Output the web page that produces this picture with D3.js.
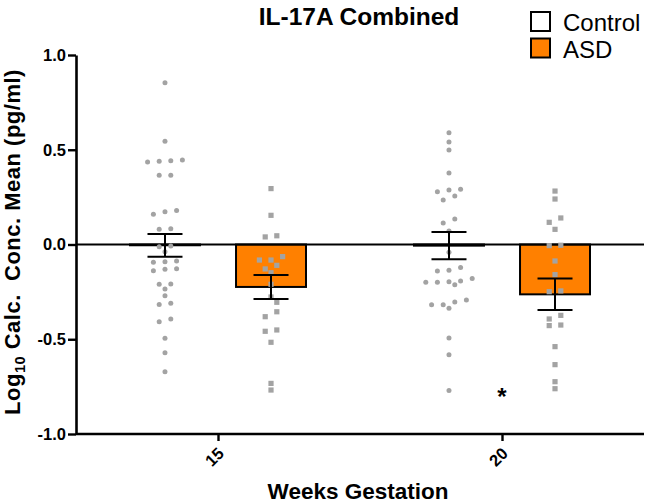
<!DOCTYPE html>
<html>
<head>
<meta charset="utf-8">
<script src="https://cdn.jsdelivr.net/npm/d3@7"></script>
<style>
  html, body { margin: 0; padding: 0; background: #fff; }
  svg { display: block; font-family: "Liberation Sans", Arial, sans-serif; }
</style>
</head>
<body>
<svg id="chart" width="647" height="504"></svg>
<script>
// ---------- data ----------
const groups = ["15", "20"];
const seriesNames = ["Control", "ASD"];
const yTicks = [1.0, 0.5, 0.0, -0.5, -1.0];

// individual points (log10 conc.)
const control15 = [0.854, 0.545, 0.446, 0.442, 0.439, 0.435, 0.365, 0.365, 0.180, 0.173, 0.159,
  0.083, 0.080, -0.008, -0.012, -0.038, -0.087, -0.091, -0.094, -0.128, -0.131, -0.138,
  -0.208, -0.210, -0.235, -0.270, -0.310, -0.316, -0.393, -0.407, -0.495, -0.571, -0.671];
const asd15 = [0.295, 0.154, 0.046, 0.040, -0.064, -0.082, -0.082, -0.110, -0.129, -0.149,
  -0.210, -0.277, -0.305, -0.355, -0.381, -0.451, -0.458, -0.516, -0.733, -0.768];
const control20 = [0.590, 0.541, 0.499, 0.377, 0.291, 0.288, 0.279, 0.256, 0.235, 0.135, 0.113,
  0.071, -0.041, -0.122, -0.136, -0.140, -0.180, -0.193, -0.196, -0.199, -0.199, -0.212,
  -0.293, -0.303, -0.318, -0.318, -0.337, -0.493, -0.582, -0.771];
const asd20 = [0.282, 0.240, 0.140, 0.117, 0.080, -0.004, -0.006, -0.087, -0.159, -0.245, -0.249,
  -0.374, -0.393, -0.425, -0.428, -0.539, -0.634, -0.724, -0.761];

// bar heights (means) and SEM, per group
const controlMean = [-0.004, -0.006];
const controlSem = [0.060, 0.072];
const asdMean = [-0.224, -0.263];
const asdSem = [0.063, 0.083];

// significance annotation
const sigGroups = ["20"];
const sigValues = [-0.78];
const sigLabels = ["*"];

// ---------- build ----------
const pointsBy = {
  "15": { Control: control15, ASD: asd15 },
  "20": { Control: control20, ASD: asd20 }
};
const meanBy = { Control: controlMean, ASD: asdMean };
const semBy = { Control: controlSem, ASD: asdSem };
const fillBy = { Control: "#ffffff", ASD: "#ff8000" };
const dotColor = "#a3a3a3";

const svg = d3.select("#chart");
const plotLeft = 76, plotRight = 644, plotTop = 55, plotBottom = 434;

const y = d3.scaleLinear().domain([-1, 1]).range([plotBottom, plotTop]);
const x0 = d3.scalePoint().domain(groups).range([plotLeft, plotRight]).padding(0.5);
const x1 = d3.scaleBand().domain(seriesNames).range([-88, 88]).paddingInner(0.34).paddingOuter(0);
const bw = x1.bandwidth();
const cx = (g, s) => x0(g) + x1(s) + bw / 2;

// bars
groups.forEach((g, gi) => {
  seriesNames.forEach(s => {
    const m = meanBy[s][gi];
    svg.append("rect")
      .attr("x", cx(g, s) - bw / 2)
      .attr("width", bw)
      .attr("y", Math.min(y(0), y(m)))
      .attr("height", Math.abs(y(m) - y(0)))
      .attr("fill", fillBy[s])
      .attr("stroke", "#000")
      .attr("stroke-width", 2);
  });
});

// zero line
svg.append("line")
  .attr("x1", plotLeft).attr("x2", plotRight)
  .attr("y1", y(0)).attr("y2", y(0))
  .attr("stroke", "#000").attr("stroke-width", 1.8);

// beeswarm placement
function swarm(values, center) {
  const step = 11.6, half = step / 2, rowTol = 5, minDist = 5.4;
  const sorted = values.slice().sort((a, b) => b - a);
  const placed = [];
  let i = 0;
  while (i < sorted.length) {
    const first = sorted[i];
    const grp = [first];
    let j = i + 1;
    while (j < sorted.length && Math.abs(y(sorted[j]) - y(first)) < rowTol) { grp.push(sorted[j]); j++; }
    grp.sort((a, b) => a - b);
    const n = grp.length;
    const shifts = [0];
    for (let k = 1; k < 12; k++) { shifts.push(k * half, -k * half); }
    let chosen = null;
    for (const sh of shifts) {
      const cand = grp.map((v, m) => ({ v, x: center + (m - (n - 1) / 2) * step + sh, y: y(v) }));
      const ok = cand.every(c => placed.every(p => Math.hypot(p.x - c.x, p.y - c.y) >= minDist));
      if (ok) { chosen = cand; break; }
    }
    if (!chosen) chosen = grp.map((v, m) => ({ v, x: center + (m - (n - 1) / 2) * step, y: y(v) }));
    placed.push(...chosen);
    i = j;
  }
  return placed;
}

groups.forEach(g => {
  // control: circles
  swarm(pointsBy[g].Control, cx(g, "Control")).forEach(p => {
    svg.append("circle").attr("cx", p.x).attr("cy", p.y).attr("r", 2.5).attr("fill", dotColor);
  });
  // ASD: squares
  swarm(pointsBy[g].ASD, cx(g, "ASD")).forEach(p => {
    svg.append("rect").attr("x", p.x - 2.6).attr("y", p.y - 2.6)
      .attr("width", 5.2).attr("height", 5.2).attr("fill", dotColor);
  });
});

// error bars
groups.forEach((g, gi) => {
  seriesNames.forEach(s => {
    const m = meanBy[s][gi], e = semBy[s][gi], c = cx(g, s), cap = 17.5;
    const eg = svg.append("g").attr("stroke", "#000").attr("stroke-width", 2);
    eg.append("line").attr("x1", c).attr("x2", c).attr("y1", y(m + e)).attr("y2", y(m - e));
    eg.append("line").attr("x1", c - cap).attr("x2", c + cap).attr("y1", y(m + e)).attr("y2", y(m + e));
    eg.append("line").attr("x1", c - cap).attr("x2", c + cap).attr("y1", y(m - e)).attr("y2", y(m - e));
  });
});

// y axis
const yAxis = svg.append("g").attr("transform", `translate(${plotLeft},0)`)
  .call(d3.axisLeft(y).tickValues(yTicks).tickSize(8).tickSizeOuter(0).tickPadding(2)
    .tickFormat(d => d.toFixed(1)));
yAxis.select(".domain").attr("stroke-width", 2.6);
yAxis.selectAll(".tick line").attr("stroke-width", 2.4);
yAxis.selectAll(".tick text").attr("font-size", 16.5).attr("font-weight", "bold")
  .attr("font-family", "'Liberation Sans', Arial, sans-serif").attr("fill", "#000");

// x axis
const xAxis = svg.append("g").attr("transform", `translate(0,${plotBottom})`)
  .call(d3.axisBottom(x0).tickSize(7).tickSizeOuter(0));
xAxis.select(".domain").attr("stroke-width", 2.6)
  .attr("d", `M${plotLeft},0H${plotRight}`);
xAxis.selectAll(".tick line").attr("stroke-width", 2.4);
xAxis.selectAll(".tick text")
  .attr("font-size", 16.5).attr("font-weight", "bold")
  .attr("font-family", "'Liberation Sans', Arial, sans-serif").attr("fill", "#000")
  .attr("text-anchor", "middle").attr("dy", null)
  .attr("y", null)
  .attr("transform", "translate(0,27) rotate(-45)");

// significance
sigGroups.forEach((g, i) => {
  svg.append("text").attr("x", x0(g)).attr("y", y(sigValues[i]) + 13)
    .attr("text-anchor", "middle").attr("font-size", 24).attr("font-weight", "bold")
    .text(sigLabels[i]);
});

// title
svg.append("text").attr("x", 359).attr("y", 25).attr("text-anchor", "middle")
  .attr("font-size", 24.5).attr("font-weight", "bold").text("IL-17A Combined");

// legend
seriesNames.forEach((s, i) => {
  svg.append("rect").attr("x", 531).attr("y", 12 + i * 26.5).attr("width", 19).attr("height", 19)
    .attr("fill", fillBy[s]).attr("stroke", "#000").attr("stroke-width", 2);
  svg.append("text").attr("x", 563).attr("y", 31 + i * 26.5).attr("font-size", 24).text(s);
});

// axis titles
svg.append("text").attr("x", 358).attr("y", 499).attr("text-anchor", "middle")
  .attr("font-size", 22.5).attr("font-weight", "bold").text("Weeks Gestation");

const yl = svg.append("text").attr("transform", `translate(19.5,242) rotate(-90)`)
  .attr("text-anchor", "middle").attr("font-size", 22).attr("font-weight", "bold")
  .attr("letter-spacing", 0.5);
yl.append("tspan").text("Log");
yl.append("tspan").attr("font-size", 14.5).attr("dy", 5).text("10");
yl.append("tspan").attr("dy", -5).text(" Calc.  Conc. Mean (pg/ml)").style("white-space", "pre");
</script>
</body>
</html>
